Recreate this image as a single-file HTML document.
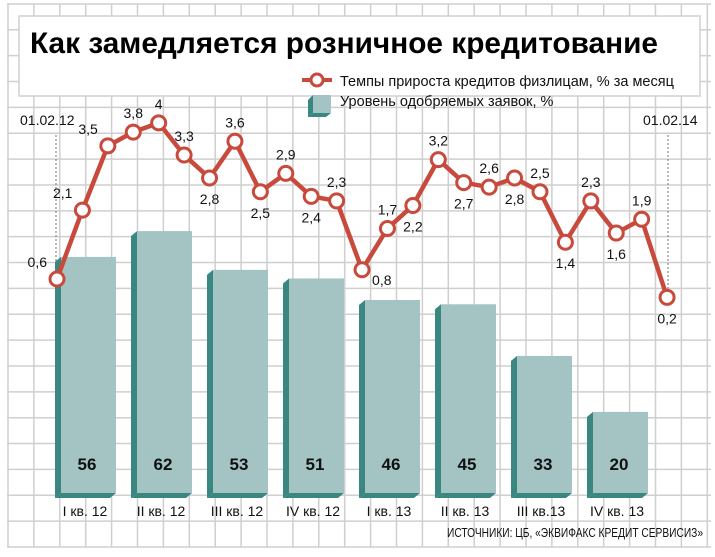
<!DOCTYPE html>
<html><head><meta charset="utf-8"><style>
html,body{margin:0;padding:0;background:#fff;width:715px;height:557px;overflow:hidden}
svg{display:block;font-family:"Liberation Sans","DejaVu Sans",sans-serif}
</style></head><body>
<svg width="715" height="557" viewBox="0 0 715 557" xmlns="http://www.w3.org/2000/svg">
<rect width="715" height="557" fill="#fff"/>
<g stroke="#cfcfcf" stroke-width="1.5" id="grid"></g>
<rect x="19" y="16" width="681" height="80" fill="#fff" stroke="#d0d0d0" stroke-width="1.5"/>
<text x="30" y="53" font-size="30" font-weight="bold" fill="#000" textLength="628" lengthAdjust="spacingAndGlyphs">Как замедляется розничное кредитование</text>
<!-- legend -->
<line x1="302" y1="80" x2="332" y2="80" stroke="#c84a3c" stroke-width="4"/>
<circle cx="317" cy="80" r="6" fill="#fff" stroke="#c84a3c" stroke-width="3"/>
<text x="340" y="86" font-size="14.5" fill="#111">Темпы прироста кредитов физлицам, % за месяц</text>
<polygon points="308,100 313,95 313,113 308,117" fill="#3a8680"/>
<polygon points="308,117 313,113 331,113 326,117" fill="#3a8680"/>
<rect x="313" y="95" width="18" height="18" fill="#a3c4c3"/>
<text x="340" y="106" font-size="14.5" fill="#111">Уровень одобряемых заявок, %</text>
<text x="20" y="125" font-size="14" fill="#111">01.02.12</text>
<text x="643" y="125" font-size="14" fill="#111">01.02.14</text>
<line x1="56" y1="135" x2="56" y2="272" stroke="#888" stroke-width="1.2" stroke-dasharray="2,2"/>
<line x1="668" y1="135" x2="668" y2="290" stroke="#888" stroke-width="1.2" stroke-dasharray="2,2"/>
<g id="bars"></g>
<g id="line"></g>
<text x="447" y="537" font-size="12.5" fill="#111" textLength="256" lengthAdjust="spacingAndGlyphs">ИСТОЧНИКИ: ЦБ, «ЭКВИФАКС КРЕДИТ СЕРВИСИЗ»</text>
</svg>
<script>
(function(){
var NS="http://www.w3.org/2000/svg";
function el(p,t,a,txt){var e=document.createElementNS(NS,t);for(var k in a)e.setAttribute(k,a[k]);if(txt!==undefined)e.textContent=txt;p.appendChild(e);return e;}
var g=document.getElementById('grid');
for(var i=0;i<=21;i++){var y=547-i*25.86;el(g,'line',{x1:7,x2:711,y1:y,y2:y});}
for(var i=0;i<=27;i++){var x=8+i*25.9;el(g,'line',{x1:x,x2:x,y1:4,y2:547});}
var b=document.getElementById('bars');
var vals=[56,62,53,51,46,45,33,20],labs=["I кв. 12","II кв. 12","III кв. 12","IV кв. 12","I кв. 13","II кв. 13","III кв.13","IV кв. 13"];
for(var i=0;i<8;i++){var x=55+i*76,tp=498-vals[i]*4.305;
el(b,'polygon',{points:x+','+(tp+5)+' '+(x+6)+','+tp+' '+(x+6)+',493 '+x+',498',fill:'#3a8680'});
el(b,'polygon',{points:x+',498 '+(x+6)+',493 '+(x+61)+',493 '+(x+55)+',498',fill:'#3a8680'});
el(b,'rect',{x:x+6,y:tp,width:55,height:493-tp,fill:'#a3c4c3'});
el(b,'text',{x:x+32,y:470,'font-size':17,'font-weight':'bold','text-anchor':'middle',fill:'#111'},vals[i]);
el(b,'text',{x:x+30,y:516,'font-size':14,'text-anchor':'middle',fill:'#111'},labs[i]);}
var v=[0.6,2.1,3.5,3.8,4,3.3,2.8,3.6,2.5,2.9,2.4,2.3,0.8,1.7,2.2,3.2,2.7,2.6,2.8,2.5,1.4,2.3,1.6,1.9,0.2];
var pos=['l','l','l','a','a','a','b','a','b','a','b','a','r','a','b','a','b','a','b','a','b','a','b','a','b'];
var L=document.getElementById('line');var pts=[];
for(var i=0;i<v.length;i++){pts.push([57+i*25.42,306.5-45.9*v[i]]);}
el(L,'polyline',{points:pts.map(function(p){return p.join(',')}).join(' '),fill:'none',stroke:'#c84a3c','stroke-width':4.5,'stroke-linejoin':'round'});
for(var i=0;i<v.length;i++){var p=pts[i];el(L,'circle',{cx:p[0],cy:p[1],r:7,fill:'#fff',stroke:'#c84a3c','stroke-width':3});
var t=String(v[i]).replace('.',',');var x=p[0],y=p[1],a='middle';
if(pos[i]=='a'){y-=14;}else if(pos[i]=='b'){y+=26;}else if(pos[i]=='l'){x-=10;y-=12;a='end';}else{x+=10;y+=15;a='start';}
el(L,'text',{x:x,y:y,'font-size':14,'text-anchor':a,fill:'#111'},t);}
})();
</script>
</body></html>
